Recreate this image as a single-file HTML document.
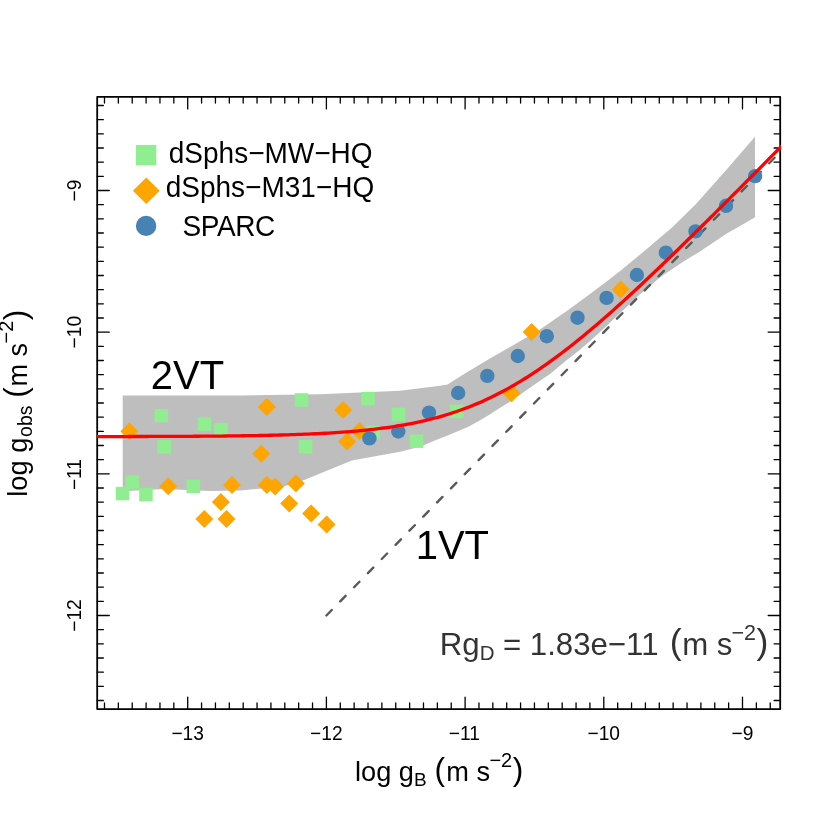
<!DOCTYPE html>
<html><head><meta charset="utf-8"><title>RAR</title>
<style>html,body{margin:0;padding:0;background:#fff;}svg{display:block;will-change:transform;opacity:0.999;}text{font-family:"Liberation Sans",sans-serif;}</style></head><body>
<svg width="830" height="830" viewBox="0 0 830 830">
<rect x="0" y="0" width="830" height="830" fill="#ffffff"/>
<polygon fill="#bebebe" points="122.7,395.5 240.0,395.5 320.0,394.3 400.0,390.8 440.0,385.8 447.5,384.4 464.1,374.1 488.2,359.6 512.3,345.8 540.0,329.6 568.2,310.1 589.3,294.5 608.6,280.0 622.0,269.6 648.2,247.8 672.3,227.3 695.5,204.6 726.0,170.3 755.0,136.7 755.0,217.2 741.8,225.0 726.4,233.8 700.0,251.4 684.3,261.1 672.3,268.9 660.2,277.3 650.0,285.9 637.5,296.5 627.8,305.7 618.2,314.8 608.6,324.0 598.9,333.1 589.3,341.8 579.6,350.0 565.0,361.5 550.0,373.9 537.5,382.5 527.8,389.3 518.2,396.0 511.0,401.0 498.9,408.6 489.3,414.8 479.6,420.6 470.0,425.9 460.2,430.2 448.2,435.3 436.1,440.0 424.1,445.1 412.0,448.7 400.0,451.7 351.8,460.6 303.6,480.2 284.3,486.2 240.0,490.5 210.0,490.9 165.0,489.0 122.7,491.3"/>
<defs><clipPath id="c"><rect x="96.8" y="96.9" width="684.2" height="612.2"/></clipPath></defs>
<line x1="326.40" y1="615.51" x2="811.85" y2="119.67" stroke="#595959" stroke-width="2.4" stroke-linecap="round" stroke-dasharray="7.67 12.11" clip-path="url(#c)"/>
<g fill="#90ee90">
<rect x="154.6" y="408.9" width="13.5" height="13.5"/>
<rect x="197.6" y="417.4" width="13.5" height="13.5"/>
<rect x="214.2" y="423.1" width="13.5" height="13.5"/>
<rect x="157.4" y="440.1" width="13.5" height="13.5"/>
<rect x="125.4" y="475.4" width="13.5" height="13.5"/>
<rect x="115.7" y="486.8" width="13.5" height="13.5"/>
<rect x="139.2" y="487.8" width="13.5" height="13.5"/>
<rect x="186.6" y="479.6" width="13.5" height="13.5"/>
<rect x="294.8" y="393.2" width="13.5" height="13.5"/>
<rect x="361.2" y="391.9" width="13.5" height="13.5"/>
<rect x="298.8" y="440.1" width="13.5" height="13.5"/>
<rect x="391.8" y="407.6" width="13.5" height="13.5"/>
<rect x="366.2" y="425.6" width="13.5" height="13.5"/>
<rect x="450.1" y="404.6" width="13.5" height="13.5"/>
<rect x="409.9" y="434.4" width="13.5" height="13.5"/>
</g>
<g fill="#ffa500">
<polygon points="120.4,431.2 129.4,422.2 138.4,431.2 129.4,440.2"/>
<polygon points="159.2,486.3 168.2,477.3 177.2,486.3 168.2,495.3"/>
<polygon points="223.0,485.1 232.0,476.1 241.0,485.1 232.0,494.1"/>
<polygon points="211.9,502.0 220.9,493.0 229.9,502.0 220.9,511.0"/>
<polygon points="195.3,519.0 204.3,510.0 213.3,519.0 204.3,528.0"/>
<polygon points="217.5,519.0 226.5,510.0 235.5,519.0 226.5,528.0"/>
<polygon points="257.8,407.0 266.8,398.0 275.8,407.0 266.8,416.0"/>
<polygon points="334.1,409.9 343.1,400.9 352.1,409.9 343.1,418.9"/>
<polygon points="252.2,453.8 261.2,444.8 270.2,453.8 261.2,462.8"/>
<polygon points="338.2,441.5 347.2,432.5 356.2,441.5 347.2,450.5"/>
<polygon points="350.5,431.1 359.5,422.1 368.5,431.1 359.5,440.1"/>
<polygon points="257.8,485.1 266.8,476.1 275.8,485.1 266.8,494.1"/>
<polygon points="266.1,486.4 275.1,477.4 284.1,486.4 275.1,495.4"/>
<polygon points="286.9,483.5 295.9,474.5 304.9,483.5 295.9,492.5"/>
<polygon points="280.2,503.4 289.2,494.4 298.2,503.4 289.2,512.4"/>
<polygon points="302.1,513.4 311.1,504.4 320.1,513.4 311.1,522.4"/>
<polygon points="317.6,524.6 326.6,515.6 335.6,524.6 326.6,533.6"/>
<polygon points="502.5,393.3 511.5,384.3 520.5,393.3 511.5,402.3"/>
<polygon points="522.6,331.9 531.6,322.9 540.6,331.9 531.6,340.9"/>
<polygon points="611.7,289.4 620.7,280.4 629.7,289.4 620.7,298.4"/>
</g>
<g fill="#4682b4">
<circle cx="369.4" cy="438.4" r="7.2"/>
<circle cx="398.3" cy="431.5" r="7.2"/>
<circle cx="429.0" cy="412.6" r="7.2"/>
<circle cx="458.2" cy="393.0" r="7.2"/>
<circle cx="487.3" cy="375.9" r="7.2"/>
<circle cx="517.8" cy="356.0" r="7.2"/>
<circle cx="546.8" cy="336.2" r="7.2"/>
<circle cx="577.5" cy="317.7" r="7.2"/>
<circle cx="606.6" cy="297.9" r="7.2"/>
<circle cx="636.9" cy="275.0" r="7.2"/>
<circle cx="665.9" cy="252.7" r="7.2"/>
<circle cx="695.5" cy="231.4" r="7.2"/>
<circle cx="726.0" cy="205.8" r="7.2"/>
<circle cx="755.1" cy="176.1" r="7.2"/>
</g>
<g stroke="#000" fill="none" stroke-linecap="round" stroke-linejoin="round">
<rect x="97.2" y="96.9" width="683.0" height="612.2" stroke-width="1.8"/>
<path d="M104.48,709.10V703.00 M104.48,96.90V103.00 M118.35,709.10V703.00 M118.35,96.90V103.00 M132.22,709.10V703.00 M132.22,96.90V103.00 M146.09,709.10V703.00 M146.09,96.90V103.00 M159.96,709.10V703.00 M159.96,96.90V103.00 M173.83,709.10V703.00 M173.83,96.90V103.00 M201.57,709.10V703.00 M201.57,96.90V103.00 M215.44,709.10V703.00 M215.44,96.90V103.00 M229.31,709.10V703.00 M229.31,96.90V103.00 M243.18,709.10V703.00 M243.18,96.90V103.00 M257.05,709.10V703.00 M257.05,96.90V103.00 M270.92,709.10V703.00 M270.92,96.90V103.00 M284.79,709.10V703.00 M284.79,96.90V103.00 M298.66,709.10V703.00 M298.66,96.90V103.00 M312.53,709.10V703.00 M312.53,96.90V103.00 M340.27,709.10V703.00 M340.27,96.90V103.00 M354.14,709.10V703.00 M354.14,96.90V103.00 M368.01,709.10V703.00 M368.01,96.90V103.00 M381.88,709.10V703.00 M381.88,96.90V103.00 M395.75,709.10V703.00 M395.75,96.90V103.00 M409.62,709.10V703.00 M409.62,96.90V103.00 M423.49,709.10V703.00 M423.49,96.90V103.00 M437.36,709.10V703.00 M437.36,96.90V103.00 M451.23,709.10V703.00 M451.23,96.90V103.00 M478.97,709.10V703.00 M478.97,96.90V103.00 M492.84,709.10V703.00 M492.84,96.90V103.00 M506.71,709.10V703.00 M506.71,96.90V103.00 M520.58,709.10V703.00 M520.58,96.90V103.00 M534.45,709.10V703.00 M534.45,96.90V103.00 M548.32,709.10V703.00 M548.32,96.90V103.00 M562.19,709.10V703.00 M562.19,96.90V103.00 M576.06,709.10V703.00 M576.06,96.90V103.00 M589.93,709.10V703.00 M589.93,96.90V103.00 M617.67,709.10V703.00 M617.67,96.90V103.00 M631.54,709.10V703.00 M631.54,96.90V103.00 M645.41,709.10V703.00 M645.41,96.90V103.00 M659.28,709.10V703.00 M659.28,96.90V103.00 M673.15,709.10V703.00 M673.15,96.90V103.00 M687.02,709.10V703.00 M687.02,96.90V103.00 M700.89,709.10V703.00 M700.89,96.90V103.00 M714.76,709.10V703.00 M714.76,96.90V103.00 M728.63,709.10V703.00 M728.63,96.90V103.00 M756.37,709.10V703.00 M756.37,96.90V103.00 M770.24,709.10V703.00 M770.24,96.90V103.00 M97.25,700.51H103.35 M780.20,700.51H774.10 M97.25,686.35H103.35 M780.20,686.35H774.10 M97.25,672.18H103.35 M780.20,672.18H774.10 M97.25,658.01H103.35 M780.20,658.01H774.10 M97.25,643.84H103.35 M780.20,643.84H774.10 M97.25,629.68H103.35 M780.20,629.68H774.10 M97.25,601.34H103.35 M780.20,601.34H774.10 M97.25,587.18H103.35 M780.20,587.18H774.10 M97.25,573.01H103.35 M780.20,573.01H774.10 M97.25,558.84H103.35 M780.20,558.84H774.10 M97.25,544.67H103.35 M780.20,544.67H774.10 M97.25,530.51H103.35 M780.20,530.51H774.10 M97.25,516.34H103.35 M780.20,516.34H774.10 M97.25,502.17H103.35 M780.20,502.17H774.10 M97.25,488.01H103.35 M780.20,488.01H774.10 M97.25,459.67H103.35 M780.20,459.67H774.10 M97.25,445.51H103.35 M780.20,445.51H774.10 M97.25,431.34H103.35 M780.20,431.34H774.10 M97.25,417.17H103.35 M780.20,417.17H774.10 M97.25,403.00H103.35 M780.20,403.00H774.10 M97.25,388.84H103.35 M780.20,388.84H774.10 M97.25,374.67H103.35 M780.20,374.67H774.10 M97.25,360.50H103.35 M780.20,360.50H774.10 M97.25,346.34H103.35 M780.20,346.34H774.10 M97.25,318.00H103.35 M780.20,318.00H774.10 M97.25,303.84H103.35 M780.20,303.84H774.10 M97.25,289.67H103.35 M780.20,289.67H774.10 M97.25,275.50H103.35 M780.20,275.50H774.10 M97.25,261.33H103.35 M780.20,261.33H774.10 M97.25,247.17H103.35 M780.20,247.17H774.10 M97.25,233.00H103.35 M780.20,233.00H774.10 M97.25,218.83H103.35 M780.20,218.83H774.10 M97.25,204.67H103.35 M780.20,204.67H774.10 M97.25,176.33H103.35 M780.20,176.33H774.10 M97.25,162.17H103.35 M780.20,162.17H774.10 M97.25,148.00H103.35 M780.20,148.00H774.10 M97.25,133.83H103.35 M780.20,133.83H774.10 M97.25,119.67H103.35 M780.20,119.67H774.10 M97.25,105.50H103.35 M780.20,105.50H774.10" stroke-width="1.3"/>
<path d="M187.70,709.10V697.10 M187.70,96.90V108.90 M326.40,709.10V697.10 M326.40,96.90V108.90 M465.10,709.10V697.10 M465.10,96.90V108.90 M603.80,709.10V697.10 M603.80,96.90V108.90 M742.50,709.10V697.10 M742.50,96.90V108.90 M97.25,615.51H109.25 M780.20,615.51H768.20 M97.25,473.84H109.25 M780.20,473.84H768.20 M97.25,332.17H109.25 M780.20,332.17H768.20 M97.25,190.50H109.25 M780.20,190.50H768.20" stroke-width="1.3"/>
</g>
<path d="M95.25,436.58 L98.68,436.58 L102.12,436.57 L105.55,436.57 L108.99,436.56 L112.42,436.56 L115.86,436.55 L119.29,436.54 L122.73,436.54 L126.16,436.53 L129.60,436.52 L133.03,436.51 L136.47,436.51 L139.90,436.50 L143.34,436.49 L146.77,436.48 L150.21,436.47 L153.64,436.46 L157.08,436.44 L160.51,436.43 L163.94,436.42 L167.38,436.40 L170.81,436.39 L174.25,436.37 L177.68,436.36 L181.12,436.34 L184.55,436.32 L187.99,436.30 L191.42,436.28 L194.86,436.26 L198.29,436.23 L201.73,436.21 L205.16,436.18 L208.60,436.15 L212.03,436.12 L215.47,436.09 L218.90,436.06 L222.34,436.03 L225.77,435.99 L229.21,435.95 L232.64,435.91 L236.07,435.86 L239.51,435.82 L242.94,435.77 L246.38,435.72 L249.81,435.66 L253.25,435.60 L256.68,435.54 L260.12,435.48 L263.55,435.41 L266.99,435.34 L270.42,435.26 L273.86,435.18 L277.29,435.09 L280.73,435.00 L284.16,434.91 L287.60,434.81 L291.03,434.70 L294.47,434.59 L297.90,434.47 L301.34,434.34 L304.77,434.21 L308.20,434.07 L311.64,433.92 L315.07,433.76 L318.51,433.60 L321.94,433.42 L325.38,433.24 L328.81,433.04 L332.25,432.83 L335.68,432.62 L339.12,432.39 L342.55,432.15 L345.99,431.89 L349.42,431.62 L352.86,431.34 L356.29,431.04 L359.73,430.73 L363.16,430.40 L366.60,430.05 L370.03,429.68 L373.46,429.30 L376.90,428.89 L380.33,428.46 L383.77,428.01 L387.20,427.54 L390.64,427.05 L394.07,426.53 L397.51,425.98 L400.94,425.41 L404.38,424.81 L407.81,424.18 L411.25,423.52 L414.68,422.83 L418.12,422.11 L421.55,421.35 L424.99,420.56 L428.42,419.74 L431.86,418.88 L435.29,417.98 L438.73,417.04 L442.16,416.06 L445.59,415.04 L449.03,413.98 L452.46,412.88 L455.90,411.73 L459.33,410.54 L462.77,409.30 L466.20,408.02 L469.64,406.69 L473.07,405.32 L476.51,403.89 L479.94,402.42 L483.38,400.90 L486.81,399.33 L490.25,397.70 L493.68,396.03 L497.12,394.31 L500.55,392.54 L503.99,390.72 L507.42,388.85 L510.85,386.93 L514.29,384.96 L517.72,382.94 L521.16,380.88 L524.59,378.76 L528.03,376.60 L531.46,374.39 L534.90,372.13 L538.33,369.83 L541.77,367.48 L545.20,365.09 L548.64,362.66 L552.07,360.19 L555.51,357.67 L558.94,355.11 L562.38,352.52 L565.81,349.88 L569.25,347.21 L572.68,344.51 L576.12,341.77 L579.55,338.99 L582.98,336.18 L586.42,333.35 L589.85,330.48 L593.29,327.58 L596.72,324.65 L600.16,321.70 L603.59,318.72 L607.03,315.71 L610.46,312.69 L613.90,309.63 L617.33,306.56 L620.77,303.46 L624.20,300.35 L627.64,297.21 L631.07,294.06 L634.51,290.89 L637.94,287.70 L641.38,284.50 L644.81,281.28 L648.24,278.04 L651.68,274.79 L655.11,271.53 L658.55,268.25 L661.98,264.97 L665.42,261.67 L668.85,258.36 L672.29,255.04 L675.72,251.71 L679.16,248.37 L682.59,245.02 L686.03,241.67 L689.46,238.30 L692.90,234.93 L696.33,231.55 L699.77,228.16 L703.20,224.77 L706.64,221.37 L710.07,217.96 L713.51,214.55 L716.94,211.14 L720.37,207.72 L723.81,204.29 L727.24,200.86 L730.68,197.43 L734.11,193.99 L737.55,190.55 L740.98,187.10 L744.42,183.65 L747.85,180.20 L751.29,176.74 L754.72,173.28 L758.16,169.82 L761.59,166.36 L765.03,162.89 L768.46,159.43 L771.90,155.95 L775.33,152.48 L778.77,149.01 L782.20,145.53" fill="none" stroke="#ff0000" stroke-width="3.3" stroke-linejoin="round" clip-path="url(#c)"/>
<g fill="#000">
<g transform="matrix(1 0 0 1.0350 0 -25.889)"><text x="171.42" y="739.70" font-size="19.20">−13</text></g>
<g transform="matrix(1 0 0 1.0350 0 -25.889)"><text x="310.12" y="739.70" font-size="19.20">−12</text></g>
<g transform="matrix(1 0 0 1.0350 0 -25.889)"><text x="448.82" y="739.70" font-size="19.20">−11</text></g>
<g transform="matrix(1 0 0 1.0350 0 -25.889)"><text x="587.52" y="739.70" font-size="19.20">−10</text></g>
<g transform="matrix(1 0 0 1.0350 0 -25.889)"><text x="731.56" y="739.70" font-size="19.20">−9</text></g>
<g transform="translate(80.8,615.5) rotate(-90)"><g transform="matrix(1 0 0 1.0350 0 -0.000)"><text x="-16.28" y="0.00" font-size="19.20">−12</text></g></g>
<g transform="translate(80.8,473.8) rotate(-90)"><g transform="matrix(1 0 0 1.0350 0 -0.000)"><text x="-16.28" y="0.00" font-size="19.20">−11</text></g></g>
<g transform="translate(80.8,332.2) rotate(-90)"><g transform="matrix(1 0 0 1.0350 0 -0.000)"><text x="-16.28" y="0.00" font-size="19.20">−10</text></g></g>
<g transform="translate(80.8,190.5) rotate(-90)"><g transform="matrix(1 0 0 1.0350 0 -0.000)"><text x="-10.94" y="0.00" font-size="19.20">−9</text></g></g>
</g>
<g transform="translate(355,780.9)" fill="#000">
<text x="0.00" y="0.00" font-size="27.20">log g</text>
<text x="58.98" y="5.00" font-size="19.00">B</text>
<text x="79.50" y="-1.20" font-size="31.70">(</text>
<text x="91.30" y="0.00" font-size="27.20">m s</text>
<text x="134.40" y="-13.70" font-size="20.00">−2</text>
<text x="157.70" y="-1.20" font-size="31.70">)</text>
</g>
<g transform="translate(26.8,496.7) rotate(-90)" fill="#000">
<text x="0.00" y="0.00" font-size="27.20">log g</text>
<text x="59.80" y="5.20" font-size="19.40">obs</text>
<text x="98.90" y="-1.20" font-size="31.70">(</text>
<text x="110.10" y="0.00" font-size="27.20">m s</text>
<text x="153.20" y="-14.30" font-size="20.00">−2</text>
<text x="176.40" y="-1.20" font-size="31.70">)</text>
</g>
<rect x="135.9" y="144.9" width="20.4" height="20.4" fill="#90ee90"/>
<polygon points="132.9,190.7 146.3,177.4 159.7,190.7 146.3,204" fill="#ffa500"/>
<circle cx="146.1" cy="225.9" r="10.2" fill="#4682b4"/>
<g font-size="28.0" fill="#000">
<g transform="matrix(1 0 0 1.0450 0 -7.321)"><text x="168.80" y="162.70" font-size="28.00">dSphs−MW−HQ</text></g>
<g transform="matrix(1 0 0 1.0450 0 -8.856)"><text x="165.70" y="196.80" font-size="28.00">dSphs−M31−HQ</text></g>
<g transform="matrix(1 0 0 1.0700 0 -16.520)"><text x="182.60" y="236.00" font-size="28.00" letter-spacing="-0.45">SPARC</text></g>
</g>
<g fill="#000"><g transform="matrix(1 0 0 1.0300 0 -11.661)"><text x="150.80" y="388.70" font-size="40.00">2VT</text></g></g>
<g fill="#000"><g transform="matrix(1 0 0 1.0350 0 -19.556)"><text x="415.66" y="558.75" font-size="40.00">1VT</text></g></g>
<g transform="translate(439.8,655.25)" fill="#333333">
<g transform="matrix(1 0 0 1.0300 0 -0.000)"><text x="0.00" y="0.00" font-size="31.20">Rg</text></g>
<text x="40.00" y="5.05" font-size="20.50">D</text>
<g transform="matrix(1 0 0 1.0300 0 -0.000)"><text x="63.20" y="0.00" font-size="31.20">= 1.83e−11</text></g>
<text x="229.90" y="-1.20" font-size="35.80">(</text>
<text x="242.40" y="0.00" font-size="31.20">m s</text>
<text x="291.70" y="-15.65" font-size="21.50">−2</text>
<text x="316.70" y="-1.20" font-size="35.80">)</text>
</g>
</svg></body></html>
